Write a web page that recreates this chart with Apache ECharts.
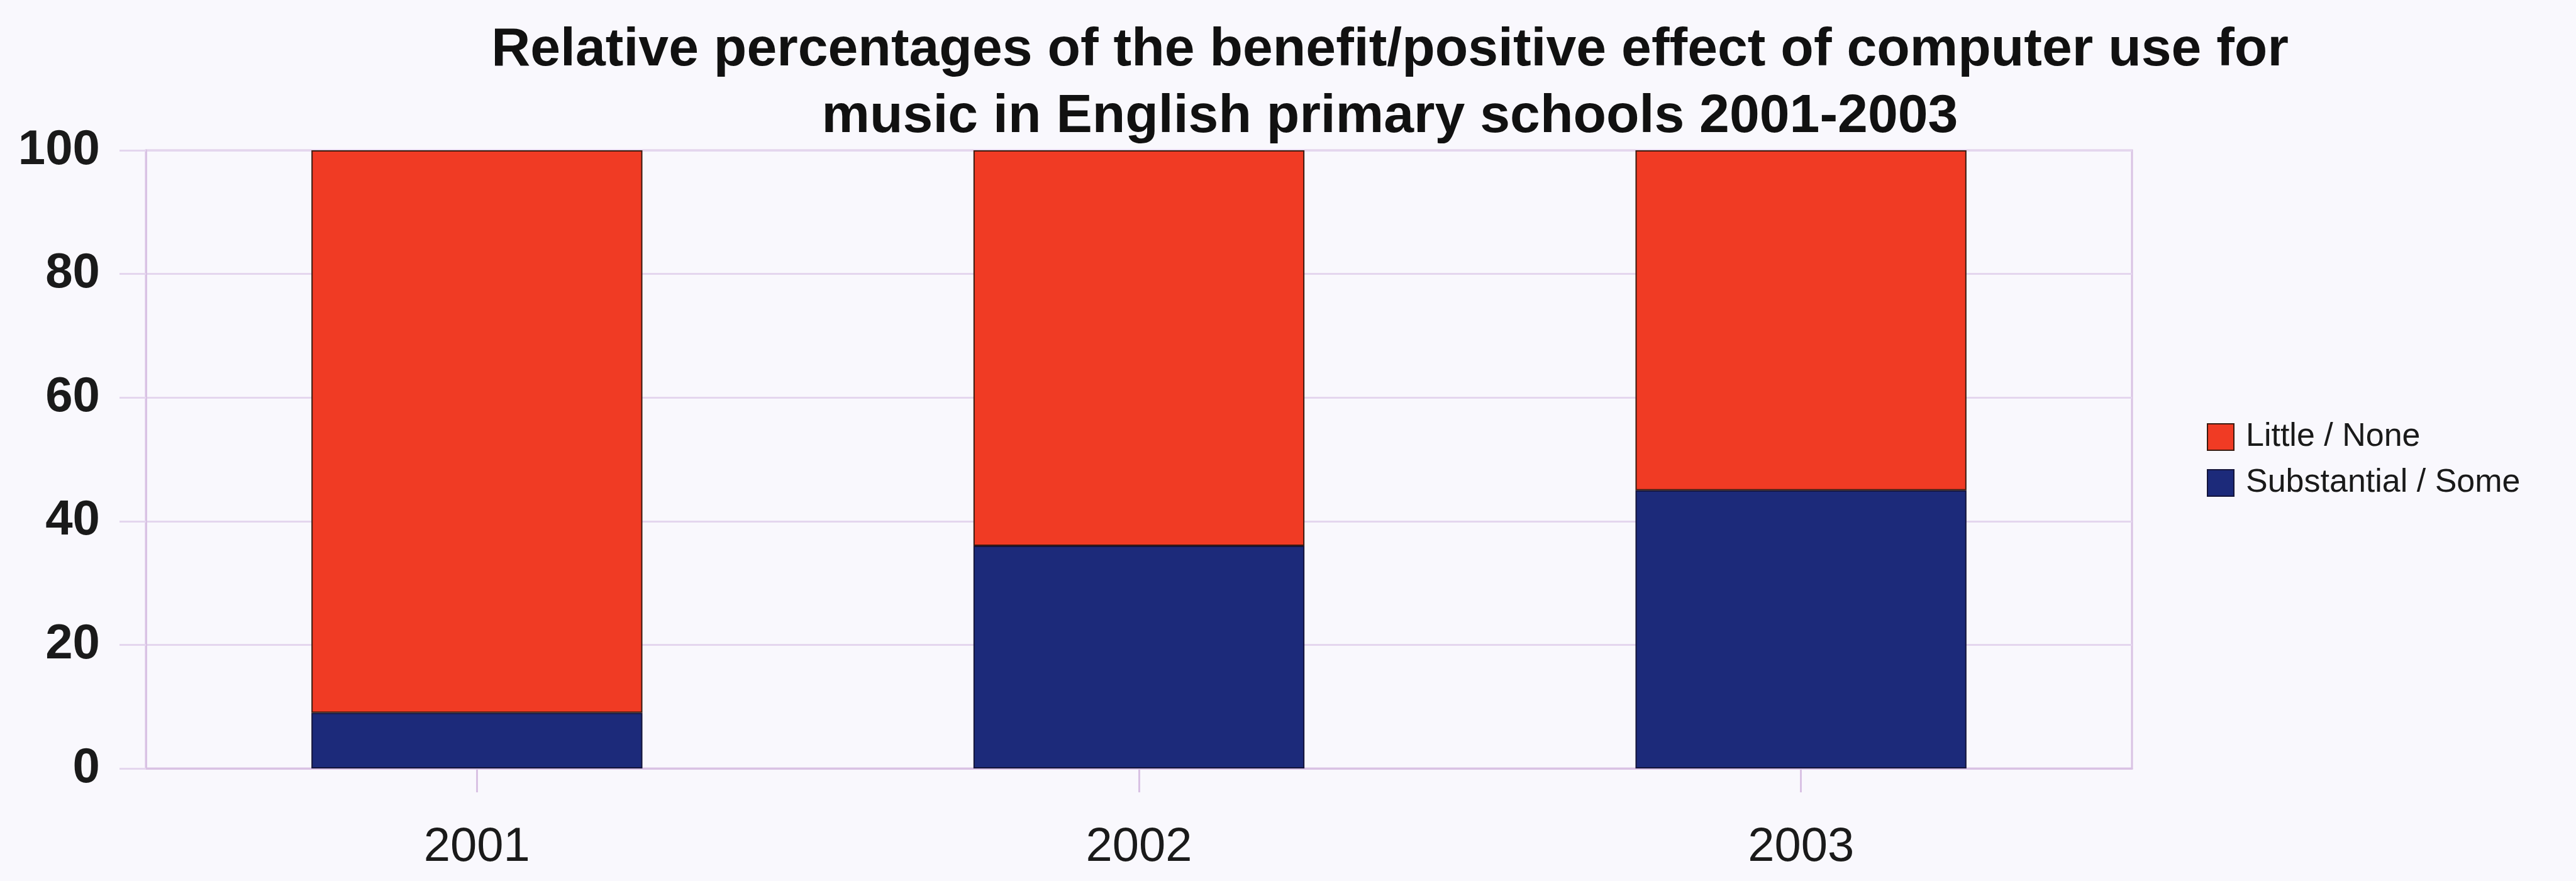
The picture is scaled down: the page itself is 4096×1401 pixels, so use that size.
<!DOCTYPE html>
<html>
<head>
<meta charset="utf-8">
<script src="https://cdn.jsdelivr.net/npm/echarts@6/dist/echarts.min.js"></script>
<style>
html,body{margin:0;padding:0;background:#f9f8fd;}
#chart{width:4096px;height:1401px;}
</style>
</head>
<body>
<div id="chart"></div>
<script>
const titleLines = [
  'Relative percentages of the benefit/positive effect of computer use for',
  'music in English primary schools 2001-2003'
];
const years = ['2001', '2002', '2003'];
const substantialSome = [9, 36, 45];
const littleNone = [91, 64, 55];
const seriesNames = ['Little / None', 'Substantial / Some'];
const yTicks = { min: 0, max: 100, interval: 20 };

const FONT = '"Liberation Sans", Arial, Helvetica, sans-serif';
const GRID_COLOR = '#e4d6ee';
const AXIS_COLOR = '#d9c2e4';

const chart = echarts.init(document.getElementById('chart'), null, { renderer: 'canvas' });
chart.setOption({
  backgroundColor: '#f9f8fd',
  animation: false,
  title: {
    text: titleLines.join('\n'),
    left: 2205,
    textAlign: 'center',
    top: 22,
    textStyle: {
      fontFamily: FONT,
      fontWeight: 'bold',
      fontSize: 86,
      lineHeight: 106,
      color: '#111111'
    }
  },
  legend: {
    orient: 'vertical',
    left: 3504,
    top: 664,
    itemWidth: 42,
    itemHeight: 42,
    itemGap: 21,
    icon: 'rect',
    data: [seriesNames[0], seriesNames[1]],
    textStyle: {
      fontFamily: FONT,
      fontSize: 52,
      color: '#1a1a1a',
      padding: [0, 0, 0, 14]
    }
  },
  grid: {
    left: 232,
    right: 706,
    top: 239,
    bottom: 179,
    show: true,
    borderColor: AXIS_COLOR,
    borderWidth: 3,
    backgroundColor: 'transparent'
  },
  xAxis: {
    type: 'category',
    data: years,
    axisLine: { show: true, lineStyle: { color: AXIS_COLOR, width: 3 } },
    axisTick: { show: true, alignWithLabel: true, length: 38, lineStyle: { color: AXIS_COLOR, width: 3 } },
    axisLabel: { margin: 88, fontFamily: FONT, fontSize: 76, color: '#1a1a1a' },
    splitLine: { show: false }
  },
  yAxis: {
    type: 'value',
    min: yTicks.min,
    max: yTicks.max,
    interval: yTicks.interval,
    axisLine: { show: true, lineStyle: { color: AXIS_COLOR, width: 3 } },
    axisTick: { show: true, length: 42, lineStyle: { color: GRID_COLOR, width: 3 } },
    axisLabel: { margin: 73, fontFamily: FONT, fontSize: 78, fontWeight: 'bold', color: '#1a1a1a' },
    splitLine: { show: true, lineStyle: { color: GRID_COLOR, width: 3 } }
  },
  series: [
    {
      name: seriesNames[1],
      type: 'bar',
      stack: 'total',
      barWidth: '50%',
      data: substantialSome,
      itemStyle: { color: '#1c2a7a', borderColor: '#14143a', borderWidth: 2 }
    },
    {
      name: seriesNames[0],
      type: 'bar',
      stack: 'total',
      barWidth: '50%',
      data: littleNone,
      itemStyle: { color: '#f03b24', borderColor: '#3a1a10', borderWidth: 2 }
    }
  ]
});
</script>
</body>
</html>
